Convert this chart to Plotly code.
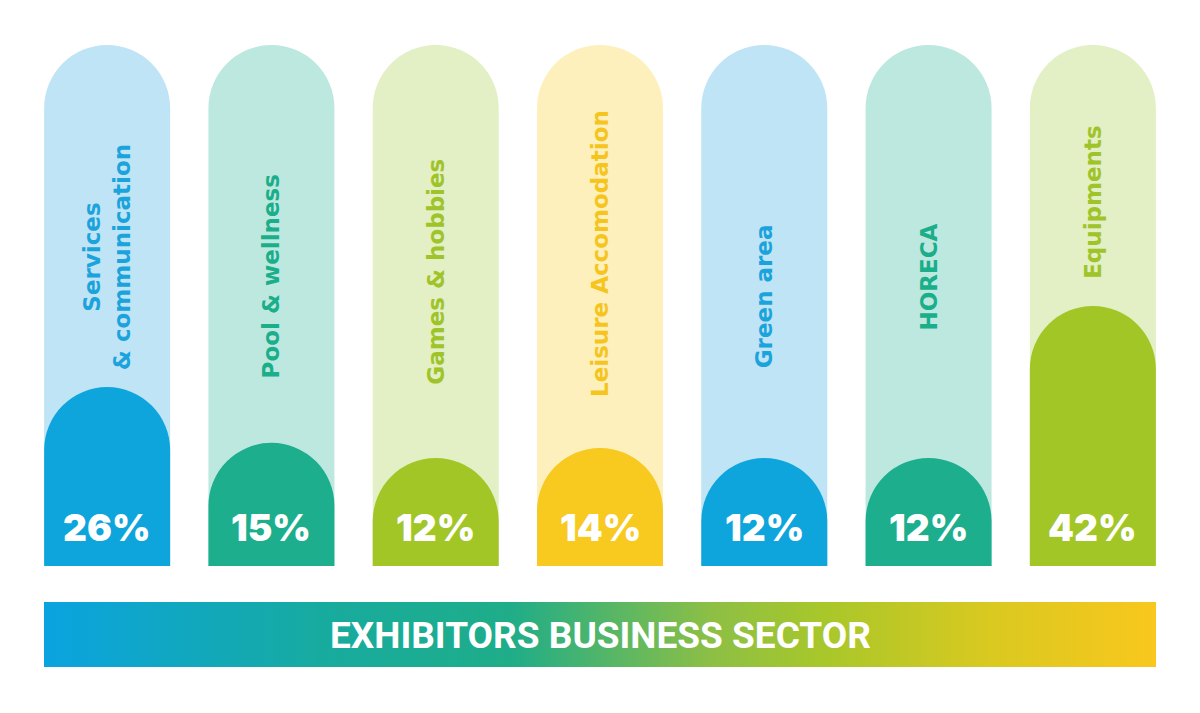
import base64
import plotly.graph_objects as go

# data
categories = ["Services<br>& communication", "Pool & wellness", "Games & hobbies",
              "Leisure Accomodation", "Green area", "HORECA", "Equipments"]
shares = [26, 15, 12, 14, 12, 12, 42]
banner_title = "EXHIBITORS BUSINESS SECTOR"

# styles
dark = ["#0ea5dd", "#1dae8d", "#a3c627", "#f8c91f", "#0ea5dd", "#1dae8d", "#a3c627"]
light = ["#bfe4f6", "#bde8df", "#e3efc4", "#fdf0bd", "#bfe4f6", "#bde8df", "#e3efc4"]
text_col = ["#1ba3dc", "#1aae8a", "#9fc42a", "#f6c51d", "#1ba3dc", "#1aae8a", "#9fc42a"]
label_mid = [257, 276, 272, 254, 296, 277, 202]  # page y of the rotated label centre

# page layout (the page body adds an 8px offset)
OFF = 8
W, H = 1200, 713
L, R = 25, 25
TOP, BOTTOM = 45, 566
Y_MIN, Y_MAX = -9.3, 93.5
BASE_LOW = -40  # bars start below the visible range so only the top is rounded
BAR_W = 0.767


def py_to_y(py):
    return Y_MIN + (BOTTOM - py) / (BOTTOM - TOP) * (Y_MAX - Y_MIN)


def py_to_paper(py):
    return (BOTTOM - py) / (BOTTOM - TOP)


def px_to_paper(px):
    return (px - L) / (W - L - R)


idx = list(range(len(categories)))

fig = go.Figure()
fig.add_trace(go.Bar(
    x=idx, y=[Y_MAX - BASE_LOW] * len(idx), base=BASE_LOW, width=BAR_W,
    marker=dict(color=light, line=dict(width=0), cornerradius="50%"),
    hoverinfo="skip", showlegend=False,
))
fig.add_trace(go.Bar(
    x=idx, y=[v - BASE_LOW for v in shares], base=BASE_LOW, width=BAR_W,
    marker=dict(color=dark, line=dict(width=0), cornerradius="50%"),
    customdata=shares, hovertemplate="%{customdata}%<extra></extra>",
    showlegend=False,
))

for i, (cat, v) in enumerate(zip(categories, shares)):
    fig.add_annotation(
        x=i, y=py_to_y(label_mid[i]), text=cat, textangle=-90, showarrow=False,
        align="center", xanchor="center", yanchor="middle",
        font=dict(family="DejaVu Sans", size=23, color=text_col[i], weight=700),
    )
    fig.add_annotation(
        x=i, y=py_to_y(527), text=f"{v}%", showarrow=False,
        xanchor="center", yanchor="middle",
        font=dict(family="Inter", size=37, color="white", weight=900),
    )

# gradient banner
stops = [(0, "#0aa3e0"), (0.25, "#17ab9f"), (0.42, "#1fad88"), (0.6, "#8dbf45"),
         (0.7, "#a8c72a"), (0.85, "#d9c920"), (1, "#f9c71d")]
svg = ("<svg xmlns='http://www.w3.org/2000/svg' width='1112' height='65' "
       "viewBox='0 0 1112 65' preserveAspectRatio='none'><defs>"
       "<linearGradient id='g' x1='0' x2='1' y1='0' y2='0'>"
       + "".join(f"<stop offset='{o}' stop-color='{c}'/>" for o, c in stops)
       + "</linearGradient></defs><rect width='1112' height='65' fill='url(#g)'/></svg>")
src = "data:image/svg+xml;base64," + base64.b64encode(svg.encode()).decode()
fig.add_layout_image(
    source=src, xref="paper", yref="paper",
    x=px_to_paper(44), y=py_to_paper(602),
    sizex=px_to_paper(1156) - px_to_paper(44), sizey=py_to_paper(602) - py_to_paper(667),
    xanchor="left", yanchor="top", sizing="stretch", layer="below",
)
fig.add_annotation(
    xref="paper", yref="paper", x=0.5, y=py_to_paper(635), text=banner_title,
    showarrow=False, xanchor="center", yanchor="middle",
    font=dict(family="Roboto", size=37, color="white", weight=700),
)

fig.update_layout(
    width=W - OFF, height=H - OFF, barmode="overlay",
    margin=dict(l=L - OFF, r=R, t=TOP - OFF, b=H - BOTTOM),
    paper_bgcolor="white", plot_bgcolor="white",
    xaxis=dict(range=[-0.5, len(idx) - 0.5], visible=False, fixedrange=True),
    yaxis=dict(range=[Y_MIN, Y_MAX], visible=False, fixedrange=True),
)
fig.write_html("out.html")
